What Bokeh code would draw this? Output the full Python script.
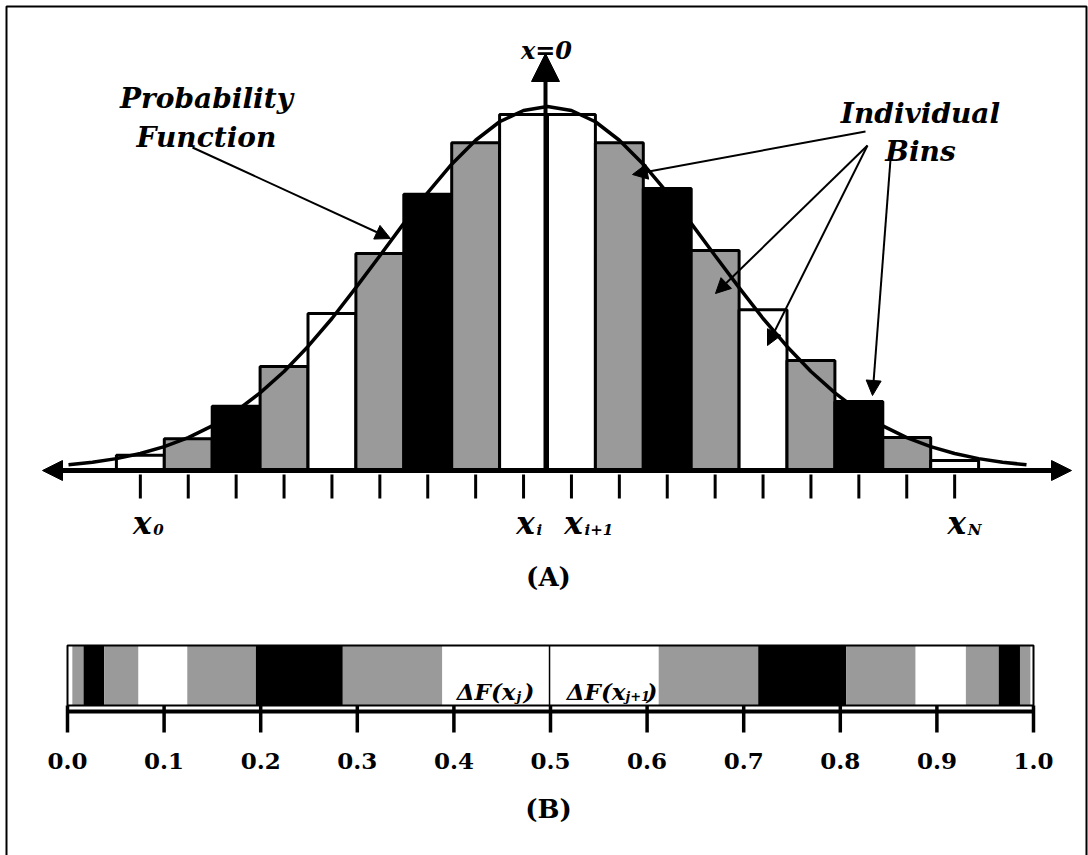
from bokeh.plotting import figure
from bokeh.models import Range1d, Arrow, NormalHead
from bokeh.core.properties import value
from bokeh.embed import file_html
from bokeh.resources import INLINE

# ---------------- data ----------------
# (A) histogram: bin edges in bin-width units (x=0 at the centre), bar heights relative to curve peak
bin_edges = [-9, -8, -7, -6, -5, -4, -3, -2, -1, 0, 1, 2, 3, 4, 5, 6, 7, 8, 9]
bin_heights = [0.039, 0.085, 0.174, 0.284, 0.430, 0.595, 0.758, 0.900, 0.978,
               0.978, 0.900, 0.774, 0.603, 0.440, 0.300, 0.187, 0.088, 0.025]
# probability function, sampled every half bin from -10 to 10
curve_x = [i / 2 for i in range(-20, 21)]
curve_y = [0.013, 0.020, 0.030, 0.044, 0.063, 0.088, 0.120, 0.161, 0.211, 0.270,
           0.339, 0.416, 0.501, 0.589, 0.678, 0.763, 0.841, 0.907, 0.958, 0.989,
           1.000,
           0.989, 0.958, 0.907, 0.841, 0.763, 0.678, 0.589, 0.501, 0.416, 0.339,
           0.270, 0.211, 0.161, 0.120, 0.088, 0.063, 0.044, 0.030, 0.020, 0.013]
bin_label_index = [0, 8, 9, 17]
bin_label_sub = ["0", "i", "i+1", "N"]

# (B) cumulative strip: segment boundaries on the 0..1 scale
cdf_edges = [0.0, 0.005, 0.0166, 0.038, 0.0735, 0.124, 0.195, 0.285, 0.388, 0.499,
             0.612, 0.715, 0.806, 0.878, 0.930, 0.964, 0.986, 0.997, 1.0]
cdf_ticks = [0.0, 0.1, 0.2, 0.3, 0.4, 0.5, 0.6, 0.7, 0.8, 0.9, 1.0]
cdf_tick_labels = ["0.0", "0.1", "0.2", "0.3", "0.4", "0.5", "0.6", "0.7", "0.8", "0.9", "1.0"]

# ---------------- styling / layout ----------------
W, H = 1088, 855
GRAY = "#9a9a9a"
CYCLE = ["white", GRAY, "black", GRAY]
n = len(bin_heights)
shades = [CYCLE[(i if i < n // 2 else n - 1 - i) % 4] for i in range(n)]
FONT = value("DejaVu Serif")

CX, BW, AX, UNIT = 547.0, 47.9, 469.0, 363.0   # pixel layout of panel (A)
B0, BL = 67.0, 966.0                            # pixel layout of panel (B)

p = figure(width=W, height=H, output_backend="svg", toolbar_location=None,
           x_range=Range1d(-CX / BW, (W - CX) / BW),
           y_range=Range1d((AX - H) / UNIT, AX / UNIT),
           x_axis_type=None, y_axis_type=None, min_border=0)
p.extra_x_ranges = {"cdf": Range1d(-B0 / BL, (W - B0) / BL), "px": Range1d(0, W)}
p.extra_y_ranges = {"px": Range1d(H, 0)}
p.outline_line_color = None
p.background_fill_color = "white"
p.border_fill_color = "white"


def txt(x, y, s, size, style="bold italic", align="center", xr="px", yr="px", x_offset=0):
    p.text(x=[x], y=[y], text=[s], text_font=FONT, text_font_size=f"{size}px",
           text_font_style=style, text_align=align, text_baseline="alphabetic",
           text_color="black", x_range_name=xr, y_range_name=yr, x_offset=x_offset)


def arrow(x0, y0, x1, y1, lw=2, size=15, both=False):
    p.add_layout(Arrow(x_start=x0, y_start=y0, x_end=x1, y_end=y1, line_width=lw,
                       line_color="black",
                       start=NormalHead(size=size, fill_color="black", line_color="black") if both else None,
                       end=NormalHead(size=size, fill_color="black", line_color="black"),
                       x_range_name="px", y_range_name="px"))


# frame
p.line([6, 6, 1086, 1086], [H, 6, 6, H], line_color="black", line_width=2,
       x_range_name="px", y_range_name="px")

# ---- panel (A) ----
p.quad(left=bin_edges[:-1], right=bin_edges[1:], bottom=0, top=bin_heights,
       fill_color=shades, line_color="black", line_width=3)
p.line(curve_x, curve_y, line_color="black", line_width=3.5)

# horizontal axis with arrows both ways, vertical arrow at x=0
arrow(42, 470, 1071, 470, lw=5, size=20, both=True)
arrow(545, 470, 545, 53, lw=4, size=28)

centers = [(a + b) / 2 for a, b in zip(bin_edges[:-1], bin_edges[1:])]
p.segment(x0=centers, x1=centers, y0=[474] * n, y1=[498] * n, line_color="black",
          line_width=3, y_range_name="px")
for idx, sub in zip(bin_label_index, bin_label_sub):
    txt(centers[idx], 522, "x", 31, xr="default", x_offset=2)
    txt(centers[idx], 529, sub, 15, align="left", xr="default", x_offset=13)

txt(546, 50, "x=0", 24)
txt(206, 98, "Probability", 28)
txt(206, 137, "Function", 28)
txt(920, 113, "Individual", 28)
txt(920, 151, "Bins", 28)
txt(548, 576, "(A)", 26, style="bold")

arrow(192, 147, 390, 238)
arrow(865, 131, 632, 174)
arrow(867, 145, 715, 293)
arrow(867, 145, 767, 345)
arrow(890, 159, 872, 395)

# ---- panel (B) ----
p.quad(left=cdf_edges[:-1], right=cdf_edges[1:], top=645, bottom=705,
       fill_color=shades, line_color=None, x_range_name="cdf", y_range_name="px")
p.segment(x0=[cdf_edges[n // 2]], x1=[cdf_edges[n // 2]], y0=[645], y1=[705],
          line_color="black", line_width=1.5, x_range_name="cdf", y_range_name="px")
p.quad(left=[cdf_ticks[0]], right=[cdf_ticks[-1]], top=[645], bottom=[705],
       fill_color=None, line_color="black", line_width=2, x_range_name="cdf", y_range_name="px")
p.line([cdf_ticks[0], cdf_ticks[-1]], [711, 711], line_color="black", line_width=4,
       x_range_name="cdf", y_range_name="px")
p.segment(x0=cdf_ticks, x1=cdf_ticks, y0=[705] * len(cdf_ticks), y1=[732] * len(cdf_ticks),
          line_color="black", line_width=3.5, x_range_name="cdf", y_range_name="px")
for t, lab in zip(cdf_ticks, cdf_tick_labels):
    txt(t, 760, lab, 23, style="bold", xr="cdf")

# delta F labels inside the two central white segments
txt(515, 691, "\u0394F(x", 23, align="right")
txt(516, 696, "j", 13, align="left")
txt(523, 691, ")", 23, align="left")
txt(625, 691, "\u0394F(x", 23, align="right")
txt(625, 696, "j+1", 13, align="left")
txt(646, 691, ")", 23, align="left")

txt(548, 808, "(B)", 26, style="bold")

open("out.html", "w").write(file_html(p, INLINE))
